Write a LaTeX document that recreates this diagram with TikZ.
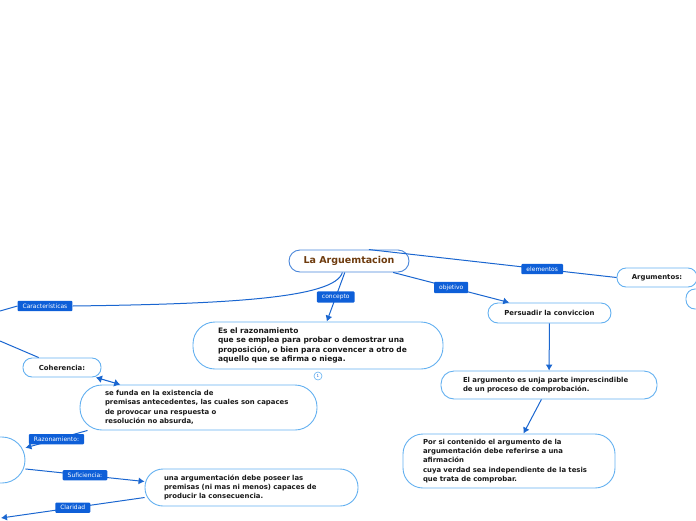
\documentclass[tikz,border=0pt]{standalone}
\usepackage{fontspec}
\newfontfamily\mapfont{DejaVu Sans}
\usetikzlibrary{arrows.meta}
\usetikzlibrary{positioning}
\definecolor{linkblue}{HTML}{1A66D0}
\definecolor{tagblue}{HTML}{0E5FD8}
\definecolor{boxblue}{HTML}{63B0F0}
\definecolor{topicbrown}{HTML}{6E3B0E}

\begin{document}
\begin{tikzpicture}[x=1pt,y=-1pt]
  \tikzset{topic/.style = {shape=rectangle,draw=boxblue,line width=0.9pt,rounded corners=9pt,inner sep=0pt,align=left,text=black!90,font=\mapfont\bfseries\fontsize{6.9}{9.3}\selectfont}}
  \tikzset{bigtopic/.style = {topic,font=\mapfont\bfseries\fontsize{7.5}{9.5}\selectfont}}
  \tikzset{maintopic/.style = {topic,draw=linkblue!80,text=topicbrown,align=center,font=\mapfont\bfseries\fontsize{9.5}{11}\selectfont}}
  \tikzset{tag/.style = {fill=tagblue,text=white,rounded corners=1pt,inner xsep=5pt,inner ysep=2.8pt,font=\mapfont\fontsize{6}{6.5}\selectfont}}
  \tikzset{conn/.style = {color=linkblue,line width=1pt}}
  \tikzset{arrowconn/.style = {conn,-{Latex[length=6pt,width=7pt]}}}
  \tikzset{twoconn/.style = {conn,line width=1.1pt,double=linkblue,double distance=0.8pt,{Latex[length=6pt,width=8pt]}-{Latex[length=6pt,width=8pt]}}}

  \useasboundingbox (0,0) rectangle (696,520);

  % topics
  \node[maintopic,minimum width=120pt,minimum height=22pt,rounded corners=11pt] (main) at (349,261) {La Arguemtacion};
  \node[bigtopic,text width=200pt,inner xsep=25pt,minimum height=47pt,rounded corners=22pt] (conc) at (318,345.5)
    {Es el razonamiento\\que se emplea para probar o demostrar una\\proposición, o bien para convencer a otro de\\aquello que se afirma o niega.};
  \node[circle,draw=boxblue,line width=0.6pt,inner sep=0pt,minimum size=8pt,text=linkblue,font=\mapfont\fontsize{4}{4}\selectfont] (num) at (318,376) {1};
  \node[topic,align=center,minimum width=80pt,minimum height=19pt] (argum) at (657,277.5) {Argumentos:};
  \node[topic,minimum width=60pt,minimum height=20pt] (argsub) at (716,299) {};
  \node[topic,align=center,minimum width=123pt,minimum height=20pt,rounded corners=10pt] (persu) at (549.5,313) {Persuadir la conviccion};
  \node[topic,text width=172pt,inner xsep=22pt,minimum height=28pt,rounded corners=13pt] (arg1) at (549,385)
    {El argumento es unja parte imprescindible\\de un proceso de comprobación.};
  \node[topic,text width=172pt,inner xsep=20pt,minimum height=54pt,rounded corners=20pt] (arg2) at (509,461)
    {Por si contenido el argumento de la\\argumentación debe referirse a una\\afirmación\\cuya verdad sea independiente de la tesis\\que trata de comprobar.};
  \node[topic,align=center,minimum width=78pt,minimum height=19pt] (coher) at (62,367.5) {Coherencia:};
  \node[topic,text width=187pt,inner xsep=25pt,minimum height=45pt,rounded corners=22pt] (funda) at (198.5,407.5)
    {se funda en la existencia de\\premisas antecedentes, las cuales son capaces\\de provocar una respuesta o\\resolución no absurda,};
  \node[topic,minimum width=66pt,minimum height=46pt,rounded corners=23pt] (leftn) at (-8,460) {};
  \node[topic,text width=175pt,inner xsep=19pt,minimum height=37pt,rounded corners=18pt] (sufic) at (251.5,487.5)
    {una argumentación debe poseer las\\premisas (ni mas ni menos) capaces de\\producir la consecuencia.};

  % free ends on the border
  \coordinate (carEnd) at (0,311);
  \coordinate (coherEnd) at (0,341);
  \coordinate (clarEnd) at (1,518);

  \node[tag] (car) at (45,306) {Características};

  % connectors
  \draw[conn] (main.240) .. controls (335,298) and (230,304) .. (car.east);
  \draw[conn] (car.west) -- (carEnd);
  \path[arrowconn] (main) edge node[tag]{concepto} (conc);
  \path[arrowconn] (main) edge node[tag]{objetivo} (persu);
  \path[conn] (main.30) edge node[tag,pos=0.7]{elementos} (argum.west);
  \foreach \from/\to in {persu/arg1, arg1/arg2}
    \path[arrowconn] (\from) edge (\to);
  \path[conn] (coherEnd) edge (coher);
  \path[twoconn] (coher) edge (funda);
  \path[arrowconn] ([xshift=8pt]funda.south west) edge node[tag]{Razonamiento:} (leftn.20);
  \path[arrowconn] (leftn.-15) edge node[tag]{Suficiencia:} ([yshift=6pt]sufic.west);
  \path[arrowconn] ([yshift=-10pt]sufic.west) edge node[tag]{Claridad} (clarEnd);

\end{tikzpicture}
\end{document}
